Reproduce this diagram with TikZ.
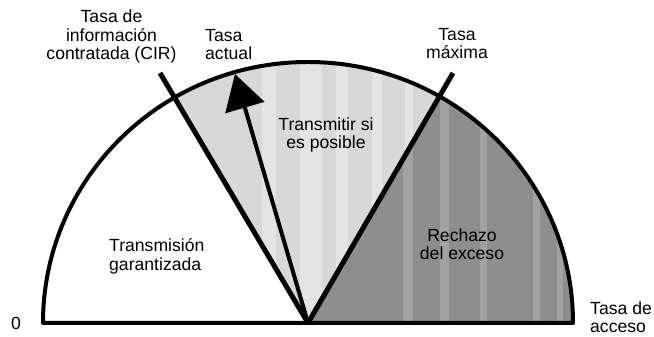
\documentclass[tikz,border=0pt]{standalone}
\usepackage{fontspec}
\setmainfont{Liberation Sans}
\usetikzlibrary{arrows.meta,calc}
\definecolor{lightfill}{HTML}{D8D8D8}
\definecolor{darkfill}{HTML}{8E8E8E}
\begin{document}
\begin{tikzpicture}[x=1pt,y=1pt,
  lbl/.style={inner sep=0pt,font=\fontsize{17.6}{18.5}\selectfont},
  ray/.style={line width=5pt},
  rim/.style={line width=4pt,line join=round}]
\useasboundingbox (0,0) rectangle (654,337);
\coordinate (C) at (308,14);
\coordinate (cirEnd) at (160,264);
\coordinate (maxEnd) at (453,264);
\coordinate (tip) at (235,263);
% light region
\begin{scope}
  \clip (C) -- ($(C)!2!(cirEnd)$) -- ($(C)!2!(maxEnd)$) -- cycle;
  \fill[lightfill] (43,14) arc[start angle=180,end angle=0,x radius=265,y radius=261] -- cycle;
  \foreach \xa/\w in {262/14,300/22,336/12,372/10,405/8}
    \fill[white,opacity=0.3] (\xa,14) rectangle ++(\w,280);
\end{scope}
% dark region
\begin{scope}
  \clip (C) -- ($(C)!2!(maxEnd)$) -- (700,600) -- (700,14) -- cycle;
  \fill[darkfill] (43,14) arc[start angle=180,end angle=0,x radius=265,y radius=261] -- cycle;
  \foreach \xa/\w in {403/10,440/9,480/7,533/7,557/6}
    \fill[white,opacity=0.18] (\xa,14) rectangle ++(\w,280);
\end{scope}
% outline
\draw[rim] (43,14) arc[start angle=180,end angle=0,x radius=265,y radius=261] -- cycle;
% rays
\draw[ray] (C) -- (cirEnd);
\draw[ray] (C) -- (maxEnd);
\draw[line width=4pt,-{Triangle[length=35pt,width=40pt]}] (C) -- (tip);
% labels (base anchor = baseline of the last line)
\node[lbl,align=center,anchor=base] (cir) at (111.5,277) {Tasa de\\información\\contratada (CIR)};
\node[lbl,align=left,anchor=base west] (act) at (205,277) {Tasa\\actual};
\node[lbl,align=center,anchor=base] (max) at (457,278) {Tasa\\máxima};
\node[lbl,align=center,anchor=base] (tsp) at (326,188) {Transmitir si\\es posible};
\node[lbl,align=left,anchor=base west] (tg) at (109,66.5) {Transmisión\\garantizada};
\node[lbl,align=center,anchor=base] (rex) at (462,77) {Rechazo\\del exceso};
\node[lbl,anchor=base] (zero) at (16,7) {0};
\node[lbl,align=left,anchor=base west] (acc) at (590,4) {Tasa de\\acceso};
\end{tikzpicture}
\end{document}
